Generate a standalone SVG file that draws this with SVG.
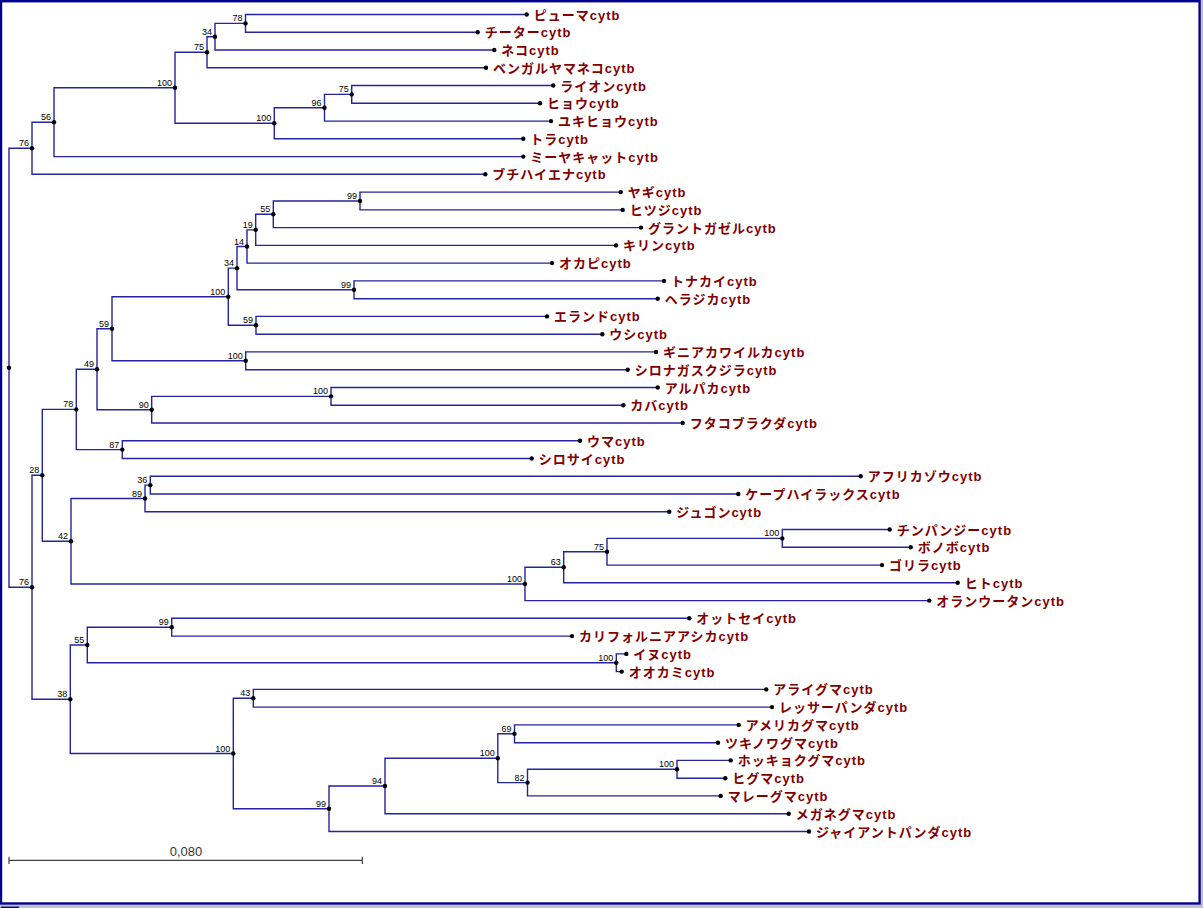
<svg xmlns="http://www.w3.org/2000/svg" width="1203" height="908" viewBox="0 0 1203 908">
<style>
.e{fill:none;stroke:#24249c;stroke-width:1.4}
.d{fill:#000}
.lf{font-family:"Liberation Sans","Noto Sans CJK JP",sans-serif;font-weight:bold;font-size:13px;letter-spacing:1px;fill:#800000}
.bs{font-family:"Liberation Sans",Arial,sans-serif;font-size:9px;fill:#000;text-anchor:end}
</style>
<rect x="0" y="0" width="1203" height="908" fill="#c0c0c0"/>
<rect x="0" y="0" width="1201" height="904.7" fill="#fff"/>
<rect x="1" y="1.2" width="1198.6" height="902.3" fill="none" stroke="#000090" stroke-width="2.4"/>
<rect x="1" y="906.6" width="18" height="1.4" fill="#000080"/>
<g id="connectors">
<path class="e" d="M9,367.8V148.25H32M9,367.8V587.3H32"/>
<path class="e" d="M32,148.25V122.2H54M32,148.25V174.3H485.3"/>
<path class="e" d="M54,122.2V87.8H175M54,122.2V156.6H523.3"/>
<path class="e" d="M175,87.8V52.25H207M175,87.8V123.3H274.3"/>
<path class="e" d="M207,52.25V36.7H215M207,52.25V67.8H486"/>
<path class="e" d="M215,36.7V23.4H245.5M215,36.7V50H494.3"/>
<path class="e" d="M245.5,23.4V14.5H526.7M245.5,23.4V32.3H477.7"/>
<path class="e" d="M274.3,123.3V107.75H324.5M274.3,123.3V138.8H523.3"/>
<path class="e" d="M324.5,107.75V94.4H351.7M324.5,107.75V121.1H551"/>
<path class="e" d="M351.7,94.4V85.5H553.3M351.7,94.4V103.3H540"/>
<path class="e" d="M32,587.3V475.3H42.3M32,587.3V699.25H70.3"/>
<path class="e" d="M42.3,475.3V409.4H76.3M42.3,475.3V541.2H71"/>
<path class="e" d="M76.3,409.4V369.2H97M76.3,409.4V449.6H122.3"/>
<path class="e" d="M97,369.2V328.75H112M97,369.2V409.7H151.7"/>
<path class="e" d="M112,328.75V296.7H228.3M112,328.75V360.8H245.7"/>
<path class="e" d="M228.3,296.7V268.15H237M228.3,296.7V325.3H256"/>
<path class="e" d="M237,268.15V246.5H247M237,268.15V289.8H354"/>
<path class="e" d="M247,246.5V229.85H255.7M247,246.5V263.1H552"/>
<path class="e" d="M255.7,229.85V214.3H273.3M255.7,229.85V245.4H616"/>
<path class="e" d="M273.3,214.3V201H360M273.3,214.3V227.6H641"/>
<path class="e" d="M360,201V192.1H620.7M360,201V209.9H622.7"/>
<path class="e" d="M354,289.8V280.9H664M354,289.8V298.7H657.7"/>
<path class="e" d="M256,325.3V316.4H547M256,325.3V334.2H602.3"/>
<path class="e" d="M245.7,360.8V351.9H656M245.7,360.8V369.7H627.7"/>
<path class="e" d="M151.7,409.7V396.35H331M151.7,409.7V423H682.7"/>
<path class="e" d="M331,396.35V387.5H657.7M331,396.35V405.2H623.3"/>
<path class="e" d="M122.3,449.6V440.7H580M122.3,449.6V458.5H531.7"/>
<path class="e" d="M71,541.2V498.5H145M71,541.2V583.95H525"/>
<path class="e" d="M145,498.5V485.15H150.3M145,498.5V511.8H669.3"/>
<path class="e" d="M150.3,485.15V476.3H860.7M150.3,485.15V494H738.3"/>
<path class="e" d="M525,583.95V567.3H563.7M525,583.95V600.6H929.3"/>
<path class="e" d="M563.7,567.3V551.75H607M563.7,567.3V582.8H957.7"/>
<path class="e" d="M607,551.75V538.4H782.3M607,551.75V565.1H882"/>
<path class="e" d="M782.3,538.4V529.5H889.7M782.3,538.4V547.3H910.7"/>
<path class="e" d="M70.3,699.25V645H87.3M70.3,699.25V753.5H233.3"/>
<path class="e" d="M87.3,645V627.2H171.7M87.3,645V662.75H616.3"/>
<path class="e" d="M171.7,627.2V618.3H689.3M171.7,627.2V636.1H572"/>
<path class="e" d="M616.3,662.75V653.9H626.3M616.3,662.75V671.6H621.7"/>
<path class="e" d="M233.3,753.5V698.25H253.3M233.3,753.5V808.7H329"/>
<path class="e" d="M253.3,698.25V689.4H766.3M253.3,698.25V707.1H772"/>
<path class="e" d="M329,808.7V785.95H385M329,808.7V831.5H809"/>
<path class="e" d="M385,785.95V758.2H497.8M385,785.95V813.7H788.7"/>
<path class="e" d="M497.8,758.2V733.8H514.5M497.8,758.2V782.6H527.5"/>
<path class="e" d="M514.5,733.8V724.9H738.7M514.5,733.8V742.7H718"/>
<path class="e" d="M527.5,782.6V769.3H677M527.5,782.6V795.9H720.7"/>
<path class="e" d="M677,769.3V760.4H730.7M677,769.3V778.2H725.3"/>
</g>
<g id="n-root"><circle class="d" cx="9" cy="367.8" r="2.2"/></g>
<g id="n76a"><circle class="d" cx="32" cy="148.25" r="2.2"/><text class="bs" x="29" y="146.25">76</text></g>
<g id="n56"><circle class="d" cx="54" cy="122.2" r="2.2"/><text class="bs" x="51" y="120.2">56</text></g>
<g id="n100a"><circle class="d" cx="175" cy="87.8" r="2.2"/><text class="bs" x="172" y="85.8">100</text></g>
<g id="n75a"><circle class="d" cx="207" cy="52.25" r="2.2"/><text class="bs" x="204" y="50.25">75</text></g>
<g id="n34a"><circle class="d" cx="215" cy="36.7" r="2.2"/><text class="bs" x="212" y="34.7">34</text></g>
<g id="n78a"><circle class="d" cx="245.5" cy="23.4" r="2.2"/><text class="bs" x="242.5" y="21.4">78</text></g>
<g id="n100b"><circle class="d" cx="274.3" cy="123.3" r="2.2"/><text class="bs" x="271.3" y="121.3">100</text></g>
<g id="n96"><circle class="d" cx="324.5" cy="107.75" r="2.2"/><text class="bs" x="321.5" y="105.75">96</text></g>
<g id="n75b"><circle class="d" cx="351.7" cy="94.4" r="2.2"/><text class="bs" x="348.7" y="92.4">75</text></g>
<g id="n76b"><circle class="d" cx="32" cy="587.3" r="2.2"/><text class="bs" x="29" y="585.3">76</text></g>
<g id="n28"><circle class="d" cx="42.3" cy="475.3" r="2.2"/><text class="bs" x="39.3" y="473.3">28</text></g>
<g id="n78b"><circle class="d" cx="76.3" cy="409.4" r="2.2"/><text class="bs" x="73.3" y="407.4">78</text></g>
<g id="n49"><circle class="d" cx="97" cy="369.2" r="2.2"/><text class="bs" x="94" y="367.2">49</text></g>
<g id="n59a"><circle class="d" cx="112" cy="328.75" r="2.2"/><text class="bs" x="109" y="326.75">59</text></g>
<g id="n100c"><circle class="d" cx="228.3" cy="296.7" r="2.2"/><text class="bs" x="225.3" y="294.7">100</text></g>
<g id="n34b"><circle class="d" cx="237" cy="268.15" r="2.2"/><text class="bs" x="234" y="266.15">34</text></g>
<g id="n14"><circle class="d" cx="247" cy="246.5" r="2.2"/><text class="bs" x="244" y="244.5">14</text></g>
<g id="n19"><circle class="d" cx="255.7" cy="229.85" r="2.2"/><text class="bs" x="252.7" y="227.85">19</text></g>
<g id="n55a"><circle class="d" cx="273.3" cy="214.3" r="2.2"/><text class="bs" x="270.3" y="212.3">55</text></g>
<g id="n99a"><circle class="d" cx="360" cy="201" r="2.2"/><text class="bs" x="357" y="199">99</text></g>
<g id="n99b"><circle class="d" cx="354" cy="289.8" r="2.2"/><text class="bs" x="351" y="287.8">99</text></g>
<g id="n59b"><circle class="d" cx="256" cy="325.3" r="2.2"/><text class="bs" x="253" y="323.3">59</text></g>
<g id="n100d"><circle class="d" cx="245.7" cy="360.8" r="2.2"/><text class="bs" x="242.7" y="358.8">100</text></g>
<g id="n90"><circle class="d" cx="151.7" cy="409.7" r="2.2"/><text class="bs" x="148.7" y="407.7">90</text></g>
<g id="n100e"><circle class="d" cx="331" cy="396.35" r="2.2"/><text class="bs" x="328" y="394.35">100</text></g>
<g id="n87"><circle class="d" cx="122.3" cy="449.6" r="2.2"/><text class="bs" x="119.3" y="447.6">87</text></g>
<g id="n42"><circle class="d" cx="71" cy="541.2" r="2.2"/><text class="bs" x="68" y="539.2">42</text></g>
<g id="n89"><circle class="d" cx="145" cy="498.5" r="2.2"/><text class="bs" x="142" y="496.5">89</text></g>
<g id="n36"><circle class="d" cx="150.3" cy="485.15" r="2.2"/><text class="bs" x="147.3" y="483.15">36</text></g>
<g id="n100g"><circle class="d" cx="525" cy="583.95" r="2.2"/><text class="bs" x="522" y="581.95">100</text></g>
<g id="n63"><circle class="d" cx="563.7" cy="567.3" r="2.2"/><text class="bs" x="560.7" y="565.3">63</text></g>
<g id="n75c"><circle class="d" cx="607" cy="551.75" r="2.2"/><text class="bs" x="604" y="549.75">75</text></g>
<g id="n100f"><circle class="d" cx="782.3" cy="538.4" r="2.2"/><text class="bs" x="779.3" y="536.4">100</text></g>
<g id="n38"><circle class="d" cx="70.3" cy="699.25" r="2.2"/><text class="bs" x="67.3" y="697.25">38</text></g>
<g id="n55b"><circle class="d" cx="87.3" cy="645" r="2.2"/><text class="bs" x="84.3" y="643">55</text></g>
<g id="n99c"><circle class="d" cx="171.7" cy="627.2" r="2.2"/><text class="bs" x="168.7" y="625.2">99</text></g>
<g id="n100h"><circle class="d" cx="616.3" cy="662.75" r="2.2"/><text class="bs" x="613.3" y="660.75">100</text></g>
<g id="n100k"><circle class="d" cx="233.3" cy="753.5" r="2.2"/><text class="bs" x="230.3" y="751.5">100</text></g>
<g id="n43"><circle class="d" cx="253.3" cy="698.25" r="2.2"/><text class="bs" x="250.3" y="696.25">43</text></g>
<g id="n99d"><circle class="d" cx="329" cy="808.7" r="2.2"/><text class="bs" x="326" y="806.7">99</text></g>
<g id="n94"><circle class="d" cx="385" cy="785.95" r="2.2"/><text class="bs" x="382" y="783.95">94</text></g>
<g id="n100i"><circle class="d" cx="497.8" cy="758.2" r="2.2"/><text class="bs" x="494.8" y="756.2">100</text></g>
<g id="n69"><circle class="d" cx="514.5" cy="733.8" r="2.2"/><text class="bs" x="511.5" y="731.8">69</text></g>
<g id="n82"><circle class="d" cx="527.5" cy="782.6" r="2.2"/><text class="bs" x="524.5" y="780.6">82</text></g>
<g id="n100j"><circle class="d" cx="677" cy="769.3" r="2.2"/><text class="bs" x="674" y="767.3">100</text></g>
<g id="leaf0"><circle class="d" cx="526.7" cy="14.5" r="2.2"/><text class="lf" x="533.7" y="19.5">ピューマcytb</text></g>
<g id="leaf1"><circle class="d" cx="477.7" cy="32.3" r="2.2"/><text class="lf" x="484.7" y="37.3">チーターcytb</text></g>
<g id="leaf2"><circle class="d" cx="494.3" cy="50" r="2.2"/><text class="lf" x="501.3" y="55">ネコcytb</text></g>
<g id="leaf3"><circle class="d" cx="486" cy="67.8" r="2.2"/><text class="lf" x="493" y="72.8">ベンガルヤマネコcytb</text></g>
<g id="leaf4"><circle class="d" cx="553.3" cy="85.5" r="2.2"/><text class="lf" x="560.3" y="90.5">ライオンcytb</text></g>
<g id="leaf5"><circle class="d" cx="540" cy="103.3" r="2.2"/><text class="lf" x="547" y="108.3">ヒョウcytb</text></g>
<g id="leaf6"><circle class="d" cx="551" cy="121.1" r="2.2"/><text class="lf" x="558" y="126.1">ユキヒョウcytb</text></g>
<g id="leaf7"><circle class="d" cx="523.3" cy="138.8" r="2.2"/><text class="lf" x="530.3" y="143.8">トラcytb</text></g>
<g id="leaf8"><circle class="d" cx="523.3" cy="156.6" r="2.2"/><text class="lf" x="530.3" y="161.6">ミーヤキャットcytb</text></g>
<g id="leaf9"><circle class="d" cx="485.3" cy="174.3" r="2.2"/><text class="lf" x="492.3" y="179.3">ブチハイエナcytb</text></g>
<g id="leaf10"><circle class="d" cx="620.7" cy="192.1" r="2.2"/><text class="lf" x="627.7" y="197.1">ヤギcytb</text></g>
<g id="leaf11"><circle class="d" cx="622.7" cy="209.9" r="2.2"/><text class="lf" x="629.7" y="214.9">ヒツジcytb</text></g>
<g id="leaf12"><circle class="d" cx="641" cy="227.6" r="2.2"/><text class="lf" x="648" y="232.6">グラントガゼルcytb</text></g>
<g id="leaf13"><circle class="d" cx="616" cy="245.4" r="2.2"/><text class="lf" x="623" y="250.4">キリンcytb</text></g>
<g id="leaf14"><circle class="d" cx="552" cy="263.1" r="2.2"/><text class="lf" x="559" y="268.1">オカピcytb</text></g>
<g id="leaf15"><circle class="d" cx="664" cy="280.9" r="2.2"/><text class="lf" x="671" y="285.9">トナカイcytb</text></g>
<g id="leaf16"><circle class="d" cx="657.7" cy="298.7" r="2.2"/><text class="lf" x="664.7" y="303.7">ヘラジカcytb</text></g>
<g id="leaf17"><circle class="d" cx="547" cy="316.4" r="2.2"/><text class="lf" x="554" y="321.4">エランドcytb</text></g>
<g id="leaf18"><circle class="d" cx="602.3" cy="334.2" r="2.2"/><text class="lf" x="609.3" y="339.2">ウシcytb</text></g>
<g id="leaf19"><circle class="d" cx="656" cy="351.9" r="2.2"/><text class="lf" x="663" y="356.9">ギニアカワイルカcytb</text></g>
<g id="leaf20"><circle class="d" cx="627.7" cy="369.7" r="2.2"/><text class="lf" x="634.7" y="374.7">シロナガスクジラcytb</text></g>
<g id="leaf21"><circle class="d" cx="657.7" cy="387.5" r="2.2"/><text class="lf" x="664.7" y="392.5">アルパカcytb</text></g>
<g id="leaf22"><circle class="d" cx="623.3" cy="405.2" r="2.2"/><text class="lf" x="630.3" y="410.2">カバcytb</text></g>
<g id="leaf23"><circle class="d" cx="682.7" cy="423" r="2.2"/><text class="lf" x="689.7" y="428">フタコブラクダcytb</text></g>
<g id="leaf24"><circle class="d" cx="580" cy="440.7" r="2.2"/><text class="lf" x="587" y="445.7">ウマcytb</text></g>
<g id="leaf25"><circle class="d" cx="531.7" cy="458.5" r="2.2"/><text class="lf" x="538.7" y="463.5">シロサイcytb</text></g>
<g id="leaf26"><circle class="d" cx="860.7" cy="476.3" r="2.2"/><text class="lf" x="867.7" y="481.3">アフリカゾウcytb</text></g>
<g id="leaf27"><circle class="d" cx="738.3" cy="494" r="2.2"/><text class="lf" x="745.3" y="499">ケープハイラックスcytb</text></g>
<g id="leaf28"><circle class="d" cx="669.3" cy="511.8" r="2.2"/><text class="lf" x="676.3" y="516.8">ジュゴンcytb</text></g>
<g id="leaf29"><circle class="d" cx="889.7" cy="529.5" r="2.2"/><text class="lf" x="896.7" y="534.5">チンパンジーcytb</text></g>
<g id="leaf30"><circle class="d" cx="910.7" cy="547.3" r="2.2"/><text class="lf" x="917.7" y="552.3">ボノボcytb</text></g>
<g id="leaf31"><circle class="d" cx="882" cy="565.1" r="2.2"/><text class="lf" x="889" y="570.1">ゴリラcytb</text></g>
<g id="leaf32"><circle class="d" cx="957.7" cy="582.8" r="2.2"/><text class="lf" x="964.7" y="587.8">ヒトcytb</text></g>
<g id="leaf33"><circle class="d" cx="929.3" cy="600.6" r="2.2"/><text class="lf" x="936.3" y="605.6">オランウータンcytb</text></g>
<g id="leaf34"><circle class="d" cx="689.3" cy="618.3" r="2.2"/><text class="lf" x="696.3" y="623.3">オットセイcytb</text></g>
<g id="leaf35"><circle class="d" cx="572" cy="636.1" r="2.2"/><text class="lf" x="579" y="641.1">カリフォルニアアシカcytb</text></g>
<g id="leaf36"><circle class="d" cx="626.3" cy="653.9" r="2.2"/><text class="lf" x="633.3" y="658.9">イヌcytb</text></g>
<g id="leaf37"><circle class="d" cx="621.7" cy="671.6" r="2.2"/><text class="lf" x="628.7" y="676.6">オオカミcytb</text></g>
<g id="leaf38"><circle class="d" cx="766.3" cy="689.4" r="2.2"/><text class="lf" x="773.3" y="694.4">アライグマcytb</text></g>
<g id="leaf39"><circle class="d" cx="772" cy="707.1" r="2.2"/><text class="lf" x="779" y="712.1">レッサーパンダcytb</text></g>
<g id="leaf40"><circle class="d" cx="738.7" cy="724.9" r="2.2"/><text class="lf" x="745.7" y="729.9">アメリカグマcytb</text></g>
<g id="leaf41"><circle class="d" cx="718" cy="742.7" r="2.2"/><text class="lf" x="725" y="747.7">ツキノワグマcytb</text></g>
<g id="leaf42"><circle class="d" cx="730.7" cy="760.4" r="2.2"/><text class="lf" x="737.7" y="765.4">ホッキョクグマcytb</text></g>
<g id="leaf43"><circle class="d" cx="725.3" cy="778.2" r="2.2"/><text class="lf" x="732.3" y="783.2">ヒグマcytb</text></g>
<g id="leaf44"><circle class="d" cx="720.7" cy="795.9" r="2.2"/><text class="lf" x="727.7" y="800.9">マレーグマcytb</text></g>
<g id="leaf45"><circle class="d" cx="788.7" cy="813.7" r="2.2"/><text class="lf" x="795.7" y="818.7">メガネグマcytb</text></g>
<g id="leaf46"><circle class="d" cx="809" cy="831.5" r="2.2"/><text class="lf" x="816" y="836.5">ジャイアントパンダcytb</text></g>
<g id="scale-bar">
<path d="M9,860.3H362.3M9,856.8V864M362.3,856.8V864" fill="none" stroke="#404040" stroke-width="1.2"/>
<text x="186" y="856" font-family="Liberation Sans,Arial,sans-serif" font-size="13" fill="#333" text-anchor="middle">0,080</text>
</g>
</svg>
